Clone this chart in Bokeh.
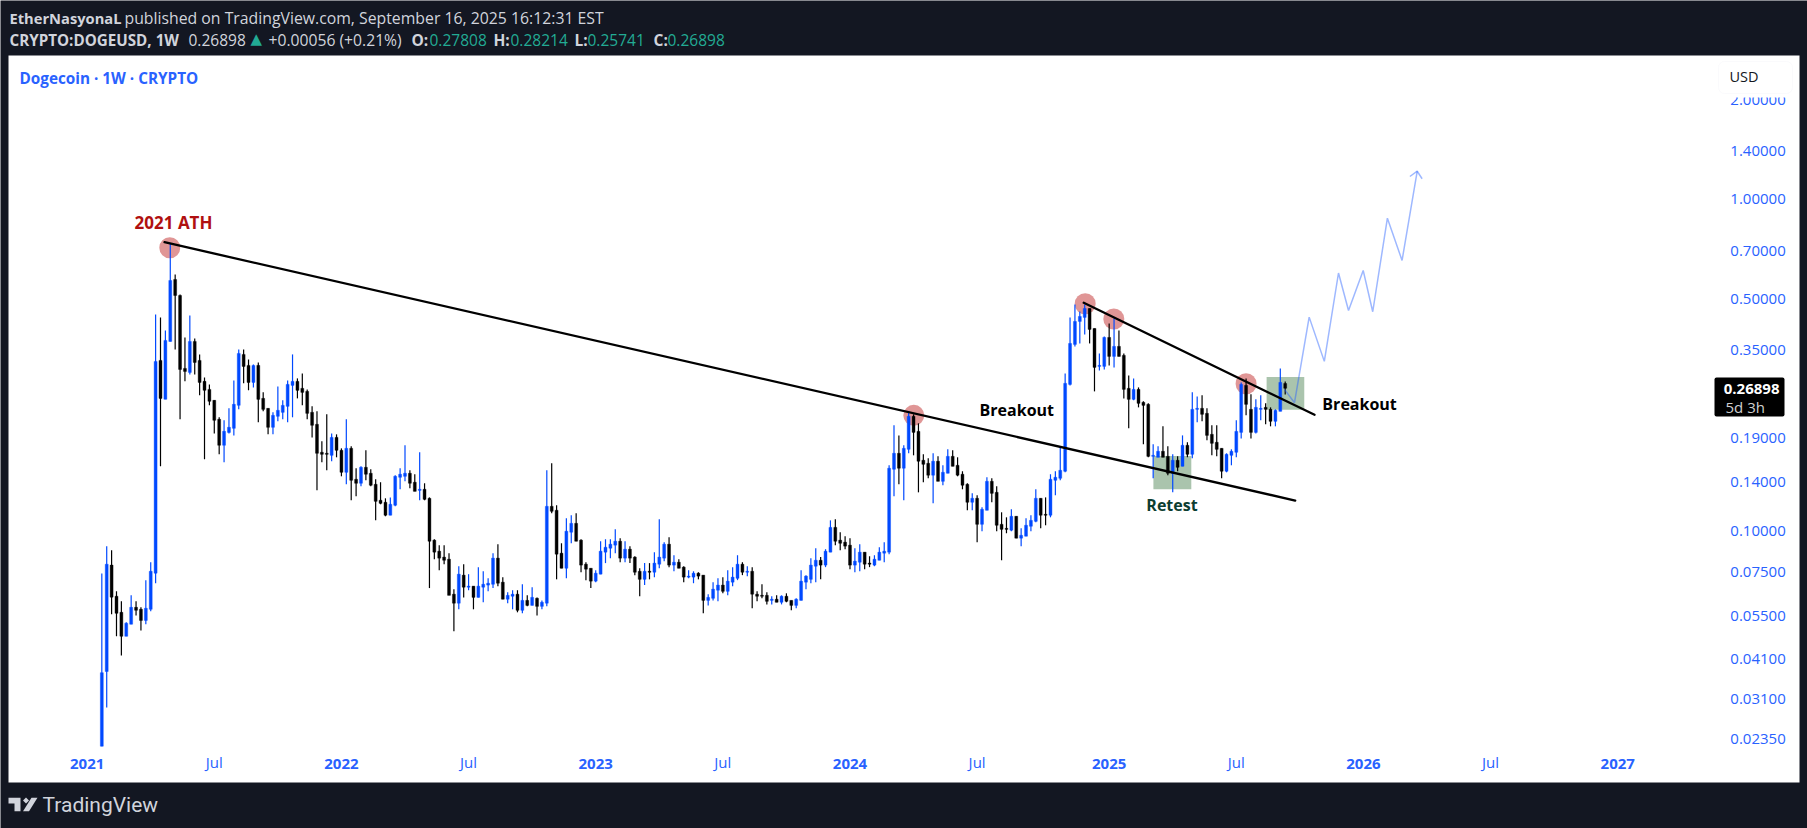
from bokeh.plotting import figure
from bokeh.core.properties import value
from bokeh.models import (ColumnDataSource, LinearAxis, FixedTicker, NumeralTickFormatter, Range1d,
                          Label, BoxAnnotation, PolyAnnotation)
from bokeh.embed import file_html
from bokeh.resources import INLINE

# ---------- weekly candles of DOGEUSD, one entry per week, first week = 2021-01-25 ----------
opens = [
 .0223,.0375,.0786,.0633,.0566,.0479,.0521,.0586,.0578,.0535,
 .0578,.0743,.3265,.2490,.3726,.5734,.5130,.3088,.3004,.3726,
 .3265,.2822,.2669,.2473,.2167,.1809,.1979,.2035,.2388,.3404,
 .3154,.2802,.3154,.2507,.2339,.2050,.2213,.2275,.2372,.2744,
 .2822,.2688,.2632,.2275,.2093,.1723,.1711,.1687,.1911,.1747,
 .1499,.1771,.1428,.1389,.1552,.1489,.1379,.1234,.1217,.1112,
 .1192,.1448,.1458,.1489,.1399,.1322,.1332,.1251,.0935,.0866,
 .0831,.0819,.0642,.0603,.0733,.0674,.0679,.0628,.0674,.0684,
 .0688,.0825,.0698,.0620,.0633,.0642,.0574,.0615,.0594,.0624,
 .0590,.0603,.1183,.1151,.0854,.0769,.0988,.1051,.0935,.0791,
 .0769,.0703,.0738,.0860,.0884,.0903,.0928,.0825,.0878,.0831,
 .0753,.0712,.0753,.0748,.0791,.0825,.0909,.0786,.0802,.0775,
 .0723,.0723,.0743,.0733,.0615,.0624,.0660,.0684,.0655,.0698,
 .0717,.0791,.0748,.0753,.0642,.0637,.0637,.0615,.0620,.0607,
 .0633,.0615,.0594,.0615,.0698,.0712,.0780,.0813,.0786,.0860,
 .1022,.0935,.0922,.0903,.0786,.0802,.0860,.0797,.0786,.0813,
 .0854,.0860,.1531,.1711,.1542,.1759,.2213,.1993,.1630,.1596,
 .1469,.1619,.1408,.1489,.1675,.1574,.1479,.1379,.1217,.1251,
 .1044,.1151,.1408,.1304,.1044,.1015,.1002,.1104,.0948,.0961,
 .1030,.1066,.1251,.1119,.1112,.1418,.1438,.1510,.2763,.3649,
 .4282,.4403,.4686,.4078,.3132,.3132,.3831,.3357,.3599,.3381,
 .2688,.2490,.2669,.2439,.2405,.1675,.1664,.1735,.1675,.1489,
 .1630,.1563,.1809,.1699,.2323,.2339,.2259,.1952,.1847,.1771,
 .1510,.1687,.1723,.1979,.2744,.2323,.1979,.2323,.2355,.2323,
 .2137,.2291,.27808]
closes = [
 .0372,.0791,.0629,.0562,.0479,.0525,.0586,.0574,.0535,.0582,
 .0753,.3243,.2507,.3752,.5695,.5130,.3067,.3025,.3726,.3220,
 .2802,.2651,.2456,.2152,.1809,.1993,.2050,.2405,.3428,.3132,
 .2802,.3154,.2490,.2323,.2050,.2228,.2307,.2388,.2763,.2822,
 .2651,.2614,.2259,.2079,.1711,.1699,.1699,.1911,.1747,.1499,
 .1771,.1418,.1389,.1552,.1479,.1370,.1225,.1208,.1112,.1200,
 .1458,.1479,.1489,.1389,.1313,.1332,.1242,.0928,.0860,.0825,
 .0813,.0637,.0603,.0738,.0674,.0679,.0628,.0679,.0688,.0693,
 .0825,.0693,.0620,.0637,.0642,.0574,.0615,.0594,.0628,.0590,
 .0607,.1183,.1143,.0848,.0769,.0995,.1051,.0928,.0786,.0764,
 .0703,.0743,.0866,.0890,.0909,.0928,.0825,.0878,.0825,.0748,
 .0712,.0753,.0748,.0797,.0831,.0909,.0786,.0802,.0769,.0723,
 .0728,.0743,.0728,.0615,.0628,.0665,.0684,.0655,.0703,.0723,
 .0791,.0748,.0753,.0642,.0633,.0633,.0611,.0620,.0607,.0633,
 .0611,.0594,.0620,.0703,.0728,.0786,.0813,.0786,.0866,.1022,
 .0928,.0915,.0897,.0786,.0808,.0860,.0791,.0791,.0819,.0860,
 .0866,.1542,.1711,.1542,.1771,.2213,.1979,.1619,.1585,.1469,
 .1619,.1408,.1499,.1675,.1563,.1469,.1370,.1217,.1251,.1044,
 .1159,.1408,.1295,.1037,.1008,.1008,.1104,.0948,.0967,.1037,
 .1073,.1251,.1112,.1112,.1428,.1448,.1520,.2783,.3674,.4282,
 .4433,.4686,.4050,.3110,.3154,.3831,.3357,.3599,.3357,.2669,
 .2490,.2669,.2422,.2388,.1675,.1687,.1735,.1664,.1489,.1630,
 .1552,.1809,.1699,.2323,.2339,.2244,.1938,.1834,.1759,.1510,
 .1699,.1735,.1993,.2763,.2405,.1979,.2355,.2339,.2323,.2137,
 .2307,.2802,.26898]
highs = [
 .0741,.0897,.0872,.0655,.0611,.0528,.0637,.0611,.0586,.0708,
 .0802,.4495,.4403,.4022,.7393,.5937,.5166,.3831,.4464,.3804,
 .3404,.2901,.2763,.2473,.2198,.2152,.2339,.2841,.3524,.3524,
 .3288,.3176,.3220,.2614,.2339,.2275,.2725,.2473,.2841,.3404,
 .2881,.2983,.2669,.2372,.2291,.1860,.2244,.1965,.1952,.1771,
 .2167,.1796,.1542,.1563,.1747,.1531,.1428,.1399,.1251,.1259,
 .1469,.1542,.1809,.1520,.1479,.1723,.1389,.1259,.0941,.0903,
 .0903,.0854,.0665,.0780,.0791,.0738,.0679,.0775,.0753,.0717,
 .0854,.0909,.0723,.0651,.0660,.0660,.0688,.0637,.0674,.0628,
 .0615,.1520,.1596,.1192,.0915,.1089,.1112,.1127,.0941,.0802,
 .0769,.0758,.0928,.0941,.0941,.1008,.0948,.0928,.0897,.0836,
 .0769,.0797,.0797,.0860,.1081,.0922,.0954,.0842,.0819,.0780,
 .0758,.0753,.0748,.0733,.0642,.0698,.0717,.0723,.0758,.0775,
 .0842,.0802,.0780,.0775,.0655,.0688,.0651,.0633,.0637,.0637,
 .0646,.0615,.0624,.0758,.0733,.0825,.0884,.0831,.0878,.1073,
 .1081,.0988,.0961,.0948,.0884,.0909,.0860,.0836,.0842,.0890,
 .0922,.1574,.2079,.1938,.1809,.2291,.2244,.2108,.1699,.1652,
 .1711,.1675,.1574,.1759,.1747,.1664,.1510,.1389,.1295,.1277,
 .1175,.1448,.1438,.1360,.1135,.1096,.1159,.1104,.1015,.1089,
 .1112,.1332,.1251,.1259,.1479,.1510,.1796,.2983,.4403,.4819,
 .4590,.4819,.4686,.4078,.3428,.3858,.4223,.4372,.4022,.3428,
 .2942,.2881,.2706,.2456,.2422,.1821,.1796,.2064,.1796,.1699,
 .1675,.1938,.1847,.2614,.2542,.2560,.2339,.2079,.2079,.1771,
 .1711,.1759,.2152,.2802,.2881,.2578,.2490,.2560,.2422,.2355,
 .2323,.3088,.28214]
lows = [
 .0223,.0292,.0558,.0479,.0419,.0479,.0521,.0554,.0499,.0521,
 .0570,.0693,.1563,.2490,.3726,.3524,.2167,.2822,.2962,.2962,
 .2560,.1641,.2388,.1965,.1699,.1607,.1965,.1938,.2323,.2783,
 .2651,.2706,.2122,.2291,.1952,.1952,.2137,.2167,.2122,.2198,
 .2507,.2388,.2167,.1911,.1322,.1607,.1520,.1619,.1664,.1458,
 .1379,.1234,.1268,.1360,.1418,.1360,.1073,.1200,.1104,.1112,
 .1183,.1332,.1408,.1341,.1313,.1234,.1234,.0670,.0819,.0758,
 .0791,.0637,.0496,.0578,.0628,.0660,.0578,.0628,.0607,.0655,
 .0670,.0679,.0620,.0603,.0578,.0566,.0562,.0590,.0594,.0554,
 .0578,.0590,.1127,.0712,.0769,.0717,.0915,.0928,.0748,.0708,
 .0670,.0698,.0738,.0797,.0825,.0854,.0802,.0802,.0797,.0733,
 .0633,.0684,.0712,.0723,.0769,.0808,.0775,.0753,.0769,.0698,
 .0717,.0693,.0712,.0562,.0594,.0615,.0611,.0646,.0637,.0679,
 .0708,.0733,.0728,.0582,.0611,.0624,.0598,.0598,.0607,.0598,
 .0607,.0574,.0582,.0615,.0665,.0693,.0698,.0712,.0775,.0860,
 .0903,.0872,.0878,.0764,.0748,.0753,.0764,.0775,.0780,.0813,
 .0802,.0848,.1268,.1379,.1234,.1711,.1687,.1304,.1399,.1438,
 .1208,.1408,.1370,.1489,.1563,.1458,.1332,.1151,.1151,.0922,
 .0995,.1151,.1217,.0995,.0813,.0981,.0995,.0948,.0897,.0961,
 .0995,.1059,.1015,.1037,.1096,.1277,.1418,.1499,.2744,.3599,
 .3674,.3912,.3674,.2632,.3046,.3067,.3154,.3110,.3357,.2507,
 .2035,.2473,.2355,.1821,.1664,.1438,.1664,.1664,.1469,.1304,
 .1510,.1563,.1664,.1652,.2122,.2137,.1873,.1687,.1675,.1438,
 .1499,.1574,.1664,.1898,.2228,.1898,.1965,.2152,.2093,.2064,
 .2064,.2291,.25741]
assert len(opens) == len(closes) == len(highs) == len(lows) == 243

# axis ticks: position in weeks since the first candle
year_weeks = [-3, 49, 101, 153, 206, 258, 310]
year_labels = ["2021", "2022", "2023", "2024", "2025", "2026", "2027"]
jul_weeks = [23, 75, 127, 179, 232, 284]
price_ticks = [2.0, 1.4, 1.0, 0.7, 0.5, 0.35, 0.19, 0.14, 0.10, 0.075, 0.055, 0.041, 0.031, 0.0235]

# drawings on the chart, in (week, price)
line1_w = [12.82, 244.05]
line1_p = [0.743, 0.1232]
line2_w = [200.8, 248.0]
line2_p = [0.4875, 0.2236]
circle_w = [13.9, 166.05, 201.1, 206.95, 234.0]
circle_p = [0.7147, 0.2228, 0.4842, 0.4355, 0.2775]
box_w0 = [215.05, 238.2]
box_w1 = [222.8, 245.9]
box_p0 = [0.1332, 0.2318]
box_p1 = [0.1678, 0.2907]
path_w = [241.86, 243.9, 246.9, 250.0, 252.9, 254.95, 257.95, 259.9, 262.9, 265.9, 269.0]
path_p = [0.2669, 0.2432, 0.4412, 0.3243, 0.5997, 0.4622, 0.6105, 0.4580, 0.8780, 0.6544, 1.2174]
head_w = [267.5, 269.0, 270.0]
head_p = [1.1734, 1.2174, 1.1550]
note_w = [179.5, 249.6, 213.6]
note_p = [0.2310, 0.2417, 0.1192]
note_text = ["Breakout", "Breakout", "Retest"]
note_color = ["#000000", "#000000", "#0b3d30"]
ath_w = [6.7]
ath_p = [0.8540]
ath_text = ["2021 ATH"]

DARK = "#131722"
BLUE = "#0049ff"
AXIS = "#2962ff"
FONT = "Open Sans"

up = [c >= o for o, c in zip(opens, closes)]
src = ColumnDataSource(dict(
    x=list(range(len(opens))), o=opens, c=closes, h=highs, l=lows,
    top=[max(a, b) for a, b in zip(opens, closes)],
    bot=[min(a, b) for a, b in zip(opens, closes)],
    col=[BLUE if u else "#000000" for u in up]))

p = figure(width=1807, height=828, output_backend="svg", toolbar_location=None,
           x_axis_type=None, y_axis_type="log", x_axis_location=None, y_axis_location=None,
           x_range=Range1d(-20.72, 348.81), y_range=Range1d(0.012581, 3.9920),
           min_border=0, background_fill_color=DARK, border_fill_color=DARK, outline_line_color=None)
p.grid.visible = False


def box(l, r, t, b, fill, line=None, radius=0, level="overlay"):
    p.add_layout(BoxAnnotation(left=l, right=r, top=t, bottom=b,
                               left_units="canvas", right_units="canvas", top_units="canvas", bottom_units="canvas",
                               fill_color=fill, fill_alpha=1, line_color=line, border_radius=radius,
                               level=level, editable=False))


box(8, 1799, 55, 782, "#ffffff", level="underlay")

p.quad(left=box_w0, right=box_w1, bottom=box_p0, top=box_p1, fill_color="#aac4ad", line_color=None)
p.scatter(circle_w, circle_p, marker="circle", size=21, fill_color="#c22d2d", fill_alpha=0.5, line_color=None)
p.segment("x", "h", "x", "l", source=src, line_color="col", line_width=1.2)
p.vbar("x", width=0.6, top="top", bottom="bot", source=src, fill_color="col", line_color="col", line_width=0.4)
p.line(line1_w, line1_p, line_color="#000000", line_width=2.3, line_cap="round")
p.line(line2_w, line2_p, line_color="#000000", line_width=2.3, line_cap="round")
p.line(path_w, path_p, line_color="#2962ff", line_alpha=0.45, line_width=1.5)
p.line(head_w, head_p, line_color="#2962ff", line_alpha=0.45, line_width=1.5)
p.text(note_w, note_p, text=note_text, text_color=note_color, text_font=value(FONT), text_font_style="bold",
       text_font_size="16px", text_baseline="middle", text_align="left")
p.text(ath_w, ath_p, text=ath_text, text_color="#b01010", text_font=value(FONT), text_font_style="bold",
       text_font_size="17px", text_baseline="middle", text_align="left")


def x_axis(ticks, labels, style, location):
    ax = LinearAxis(ticker=FixedTicker(ticks=ticks), fixed_location=location,
                    major_label_overrides=dict(zip(ticks, labels)),
                    axis_line_color=None, major_tick_line_color=None, minor_tick_line_color=None,
                    major_label_standoff=0, major_label_text_color=AXIS, major_label_text_font=FONT,
                    major_label_text_font_size="15px", major_label_text_font_style=style)
    p.add_layout(ax, "below")


x_axis(year_weeks, year_labels, "bold", 0.02120)
x_axis(jul_weeks, ["Jul"] * len(jul_weeks), "normal", 0.02241)

y_ax = LinearAxis(ticker=FixedTicker(ticks=price_ticks), fixed_location=331.8,
                  formatter=NumeralTickFormatter(format="0.00000"),
                  axis_line_color=None, major_tick_line_color=None, minor_tick_line_color=None,
                  major_label_standoff=0, major_label_text_color=AXIS, major_label_text_font=FONT,
                  major_label_text_font_size="15px")
p.add_layout(y_ax, "right")


def txt(x, y, s, color, bold=False, size=15.5, font=FONT, align="left"):
    p.add_layout(Label(x=x, y=y, x_units="canvas", y_units="canvas", text=s, text_color=color,
                       text_font=font, text_font_size=f"{size}px", text_font_style="bold" if bold else "normal",
                       text_baseline="middle", text_align=align, level="overlay"))


def poly(xs, ys, color):
    p.add_layout(PolyAnnotation(xs=xs, ys=ys, xs_units="canvas", ys_units="canvas",
                                fill_color=color, fill_alpha=1, line_color=None, level="overlay", editable=False))


# USD button and last-price tag
box(1718, 1792, 93, 97, "#ffffff")
box(1718, 1792, 61, 93, "#ffffff", "#eef0f5", 6)
txt(1729, 76, "USD", "#131722", size=14.5)
box(1714, 1784, 377, 416, "#000000", None, 2)
txt(1779, 388, "0.26898", "#ffffff", True, 15, align="right")
txt(1725, 406, "5d 3h", "#cfcfcf", False, 15)

# chart title and header
LIGHT = "#d1d4dc"
TEAL = "#22ab94"
txt(19, 77, "Dogecoin · 1W · CRYPTO", AXIS, True, 15.3)
txt(9, 17, "EtherNasyonaL", LIGHT, True, 14.7)
txt(124, 17, "published on TradingView.com, September 16, 2025 16:12:31 EST", LIGHT, False, 15.8)
txt(9, 39, "CRYPTO:DOGEUSD, 1W", LIGHT, True, 15.2)
txt(188, 39, "0.26898", LIGHT)
txt(250, 38, "▲", TEAL, False, 15, font="DejaVu Sans")
txt(268, 39, "+0.00056 (+0.21%)", LIGHT, False, 15.7)
txt(411, 39, "O:", LIGHT, True)
txt(429, 39, "0.27808", TEAL)
txt(493, 39, "H:", LIGHT, True)
txt(510, 39, "0.28214", TEAL)
txt(574, 39, "L:", LIGHT, True)
txt(587, 39, "0.25741", TEAL)
txt(653, 39, "C:", LIGHT, True)
txt(667, 39, "0.26898", TEAL)

# TradingView mark and wordmark
poly([8, 20, 20, 14, 14, 8], [797.3, 797.3, 810.7, 810.7, 803, 803], LIGHT)
poly([31, 37, 28.5, 22.5], [797.3, 797.3, 810.7, 810.7], LIGHT)
poly([22.5, 25.5, 28.5, 25.5], [800, 797, 800, 803], LIGHT)
txt(42, 804.5, "TradingView", LIGHT, False, 21, font="Roboto")

open("out.html", "w").write(file_html(p, INLINE))
